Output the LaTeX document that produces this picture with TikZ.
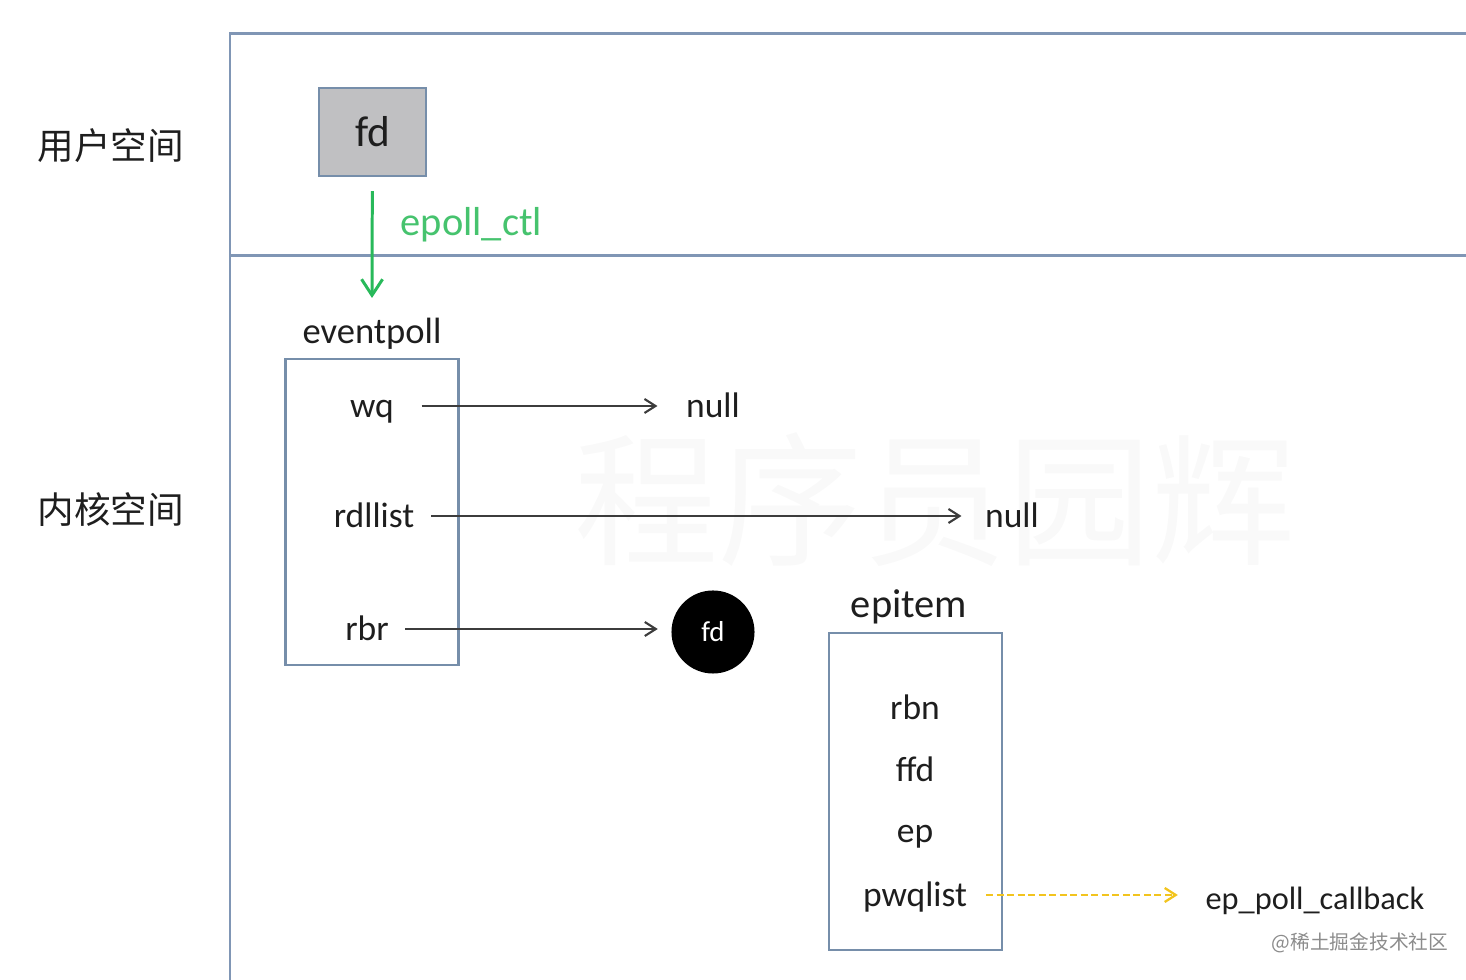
\documentclass[tikz,border=0pt]{standalone}
\usepackage{fontspec}
\setmainfont{Carlito}
\newfontfamily\cjk{Noto Sans CJK SC}
\usetikzlibrary{arrows.meta}
\definecolor{framec}{RGB}{128,150,181}
\definecolor{boxc}{RGB}{118,142,170}
\definecolor{fdgray}{RGB}{192,192,194}
\definecolor{ctlgreen}{RGB}{40,185,90}
\definecolor{ctltext}{RGB}{70,195,110}
\definecolor{linkc}{RGB}{60,60,60}
\definecolor{cbyellow}{RGB}{242,196,30}
\definecolor{textc}{RGB}{30,30,30}

\begin{document}
\begin{tikzpicture}[x=0.01cm,y=-0.01cm,
  frame/.style={draw=framec,line width=0.85pt},
  struct/.style={draw=boxc,line width=0.6pt,minimum width=1.73cm},
  field/.style={inner sep=0pt,text height=7.9pt,text depth=1.1pt,font=\fontsize{10.1pt}{12pt}\selectfont,text=textc},
  title/.style={field,font=\fontsize{10.4pt}{12pt}\selectfont},
  space/.style={font=\cjk\fontsize{10.4pt}{12pt}\selectfont,text=textc},
  link/.style={-{Straight Barb[length=1.1mm,width=1.4mm]},draw=linkc,line width=0.6pt}]
\useasboundingbox (0,0) rectangle (1466,980);

% user / kernel space
\draw[frame] (1466,34) -- (230,34) -- (230,980);
\draw[frame] (230,256) -- (1466,256);
\node[space] (user) at (111,146) {用户空间};
\node[space] (kernel) at (111,510) {内核空间};
\node[font=\cjk\fontsize{41pt}{41pt}\selectfont,text=black!2.5] (mark) at (935,500) {程序员园辉};

% fd in user space
\node[draw=boxc,line width=0.6pt,fill=fdgray,minimum width=1.07cm,minimum height=0.88cm,
  font=\fontsize{12.3pt}{14pt}\selectfont,text=textc] (fd) at (372.5,132) {fd};
\coordinate (ctlend) at (372,298);
\draw[-{Straight Barb[length=1.6mm,width=2.1mm]},draw=ctlgreen,line width=0.85pt,shorten <=1.4mm] (fd) -- (ctlend);
\node[field,anchor=west,text=ctltext,font=\fontsize{11.5pt}{13pt}\selectfont] (ctl) at (400,224) {epoll\_ctl};

% eventpoll
\node[title] (evname) at (372,332) {eventpoll};
\node[struct,minimum height=3.06cm] (evbox) at (372,512) {};
\node[field] (wq) at (372,406) {wq};
\node[field] (rdllist) at (374,516) {rdllist};
\node[field] (rbr) at (367,629) {rbr};
\node[field] (null1) at (713,406) {null};
\node[field] (null2) at (1012,516) {null};
\node[circle,fill=black,minimum size=0.83cm,inner sep=0pt,text=white,font=\fontsize{8.2pt}{10pt}\selectfont] (fdc) at (713,632) {fd};
\path (wq) edge[link,shorten <=2.7mm,shorten >=2.8mm] (null1);
\path (rdllist) edge[link,shorten <=1.65mm,shorten >=2.3mm] (null2);
\path (rbr) edge[link,shorten <=1.6mm,shorten >=1.3mm] (rbr -| fdc.west);

% epitem
\node[title,font=\fontsize{11.5pt}{13pt}\selectfont] (itname) at (909,606) {epitem};
\node[struct,minimum height=3.17cm] (itbox) at (915.5,791.5) {};
\node[field] (rbn) at (915,708) {rbn};
\node[field] (ffd) at (915,770) {ffd};
\node[field] (ep) at (915,831) {ep};
\node[field] (pwqlist) at (915,895) {pwqlist};
\node[field,font=\fontsize{9.2pt}{11pt}\selectfont] (cb) at (1315,898) {ep\_poll\_callback};
\path (pwqlist) edge[link,draw=cbyellow,line width=0.65pt,dash pattern=on 0.7mm off 0.35mm,shorten <=1.85mm,shorten >=2.7mm] (pwqlist -| cb.west);

\node[font=\cjk\fontsize{5.6pt}{7pt}\selectfont,text=black!45] (site) at (1360,943) {@稀土掘金技术社区};
\end{tikzpicture}
\end{document}
